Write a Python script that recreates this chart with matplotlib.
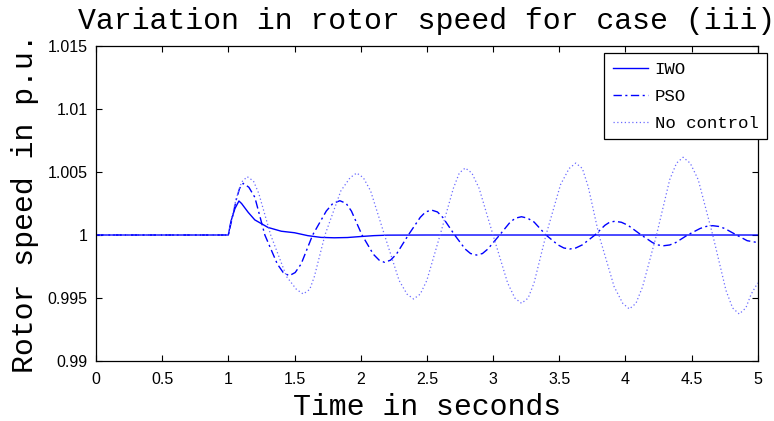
import matplotlib
matplotlib.use('Agg')
import matplotlib.pyplot as plt

# rotor speed (p.u.) against time (s)
t_iwo = [0, 1.0, 1.02, 1.05, 1.08, 1.1, 1.15, 1.2, 1.3, 1.4, 1.5, 1.6, 1.7,
         1.8, 1.9, 2.0, 2.1, 2.2, 2.5, 3.0, 5.0]
w_iwo = [1.0, 1.0, 1.0011, 1.0021, 1.0027, 1.0025, 1.0018, 1.0012, 1.0006,
         1.0003, 1.00018, 0.99995, 0.99981, 0.99978, 0.9998, 0.99988,
         0.99995, 0.99999, 1.0, 1.0, 1.0]

t_pso = [0, 1.0, 1.03, 1.06, 1.085, 1.113, 1.155, 1.2, 1.276, 1.37, 1.415,
         1.46, 1.505, 1.55, 1.637, 1.74, 1.79, 1.843, 1.89, 1.93, 2.01,
         2.095, 2.14, 2.18, 2.225, 2.27, 2.36, 2.45, 2.49, 2.535, 2.58,
         2.62, 2.71, 2.79, 2.83, 2.875, 2.92, 2.96, 3.05, 3.13, 3.17, 3.215,
         3.26, 3.31, 3.40, 3.49, 3.535, 3.58, 3.625, 3.675, 3.77, 3.845,
         3.88, 3.92, 3.97, 4.02, 4.12, 4.205, 4.245, 4.29, 4.335, 4.38,
         4.47, 4.565, 4.61, 4.66, 4.705, 4.75, 4.84, 4.92, 5.0]
w_pso = [1.0, 1.0, 1.0014, 1.0028, 1.0037, 1.0041, 1.00379, 1.0030, 1.0,
         0.9977, 0.99702, 0.99677, 0.99702, 0.9977, 1.0, 1.0019, 1.00251,
         1.00272, 1.00251, 1.0019, 1.0, 0.99848, 0.998, 0.99783, 0.998,
         0.99848, 1.0, 1.0014, 1.00183, 1.00198, 1.00183, 1.0014, 1.0,
         0.99888, 0.99853, 0.99841, 0.99853, 0.99888, 1.0, 1.00103,
         1.00134, 1.00145, 1.00134, 1.00103, 1.0, 0.99922, 0.99897,
         0.99889, 0.99897, 0.99922, 1.0, 1.00077, 1.00101, 1.00109,
         1.00101, 1.00077, 1.0, 0.9994, 0.99921, 0.99915, 0.99921, 0.9994,
         1.0, 1.00052, 1.00068, 1.00074, 1.00068, 1.00052, 1.0, 0.99955,
         0.9994]

t_nc = [0, 1.0, 1.03, 1.06, 1.1, 1.143, 1.19, 1.23, 1.32, 1.44, 1.515,
        1.566, 1.615, 1.65, 1.73, 1.85, 1.92, 1.97, 2.02, 2.075, 2.18, 2.29,
        2.35, 2.40, 2.45, 2.50, 2.60, 2.70, 2.745, 2.79, 2.84, 2.895, 3.0,
        3.11, 3.165, 3.215, 3.265, 3.31, 3.40, 3.51, 3.575, 3.625, 3.675,
        3.72, 3.80, 3.915, 3.98, 4.03, 4.08, 4.13, 4.235, 4.335, 4.386,
        4.436, 4.49, 4.55, 4.66, 4.76, 4.81, 4.86, 4.91, 4.95, 5.0]
w_nc = [1.0, 1.0, 1.0016, 1.0029, 1.0042, 1.00463, 1.00428, 1.0033, 1.0,
        0.9967, 0.99568, 0.99532, 0.99568, 0.9967, 1.0, 1.0035, 1.00455,
        1.00492, 1.00455, 1.0035, 1.0, 0.9964, 0.99531, 0.99492, 0.99531,
        0.9964, 1.0, 1.0037, 1.00492, 1.00532, 1.00492, 1.0037, 1.0,
        0.9962, 0.99499, 0.99458, 0.99499, 0.9962, 1.0, 1.0040, 1.00528,
        1.00571, 1.00528, 1.0038, 1.0, 0.9959, 0.99458, 0.99413, 0.99458,
        0.9959, 1.0, 1.0044, 1.0057, 1.00617, 1.0057, 1.0044, 1.0, 0.9956,
        0.99421, 0.99373, 0.99421, 0.9953, 0.9962]

xticks = [0, 0.5, 1, 1.5, 2, 2.5, 3, 3.5, 4, 4.5, 5]
xticklabels = ['0', '0.5', '1', '1.5', '2', '2.5', '3', '3.5', '4', '4.5', '5']
yticks = [0.99, 0.995, 1.0, 1.005, 1.01, 1.015]
yticklabels = ['0.99', '0.995', '1', '1.005', '1.01', '1.015']

mono = 'Liberation Mono'
tickfont = 'Liberation Sans'

fig = plt.figure(figsize=(7.74, 4.21), dpi=100)
ax = fig.add_axes([0.124, 0.1425, 0.855, 0.7482])

ax.plot(t_iwo, w_iwo, color='#0000ff', lw=1.0, label='IWO')
ax.plot(t_pso, w_pso, color='#0000ff', lw=1.0,
        linestyle=(0, (6, 2.5, 1.5, 2.5)), label='PSO')
ax.plot(t_nc, w_nc, color='#6b6bff', lw=0.9,
        linestyle=(0, (1, 2)), label='No control')

ax.set_xlim(0, 5)
ax.set_ylim(0.99, 1.015)
ax.set_xticks(xticks)
ax.set_xticklabels(xticklabels, family=tickfont, fontsize=11.5)
ax.set_yticks(yticks)
ax.set_yticklabels(yticklabels, family=tickfont, fontsize=11.5)
ax.tick_params(direction='in', length=4, width=0.8, top=True, right=True)
ax.tick_params(axis='x', pad=8)
ax.tick_params(axis='y', pad=6)
for s in ax.spines.values():
    s.set_linewidth(0.9)

ax.set_title('Variation in rotor speed for case (iii)', family=mono,
             fontsize=21.5, pad=12.5)
ax.set_xlabel('Time in seconds', family=mono, fontsize=21.5, labelpad=4)
ax.set_ylabel('Rotor speed in p.u.', family=mono, fontsize=21.5, labelpad=6)

leg = ax.legend(loc='upper right', bbox_to_anchor=(767 / 774, 1 - 53 / 421),
                bbox_transform=fig.transFigure, prop={'family': mono, 'size': 12.5},
                fancybox=False, edgecolor='black', framealpha=1,
                handlelength=2.0, handletextpad=0.4, labelspacing=0.68,
                borderpad=0.5, borderaxespad=0)
leg.get_frame().set_linewidth(0.9)

fig.savefig('out.png', dpi=100)
